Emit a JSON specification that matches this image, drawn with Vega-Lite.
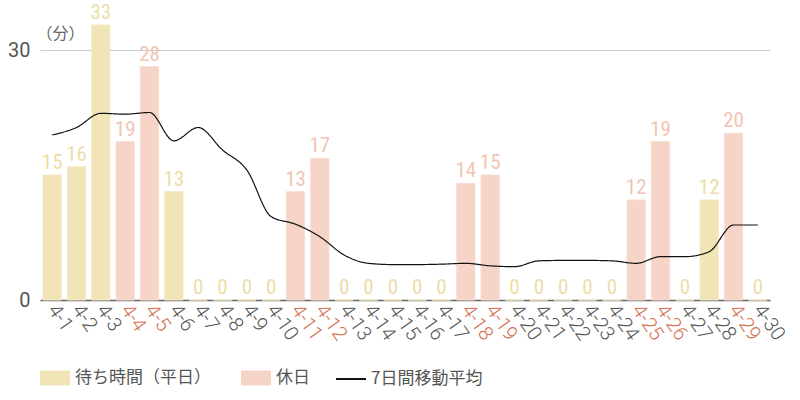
{
  "$schema": "https://vega.github.io/schema/vega-lite/v6.json",
  "width": 730,
  "height": 300,
  "autosize": {"type": "none"},
  "padding": {"left": 40, "top": 0, "right": 30, "bottom": 100},
  "background": "#ffffff",
  "data": {
    "values": [
      {"date": "4-1", "value": 15, "type": "待ち時間（平日）", "ma": 19.8},
      {"date": "4-2", "value": 16, "type": "待ち時間（平日）", "ma": 20.7},
      {"date": "4-3", "value": 33, "type": "待ち時間（平日）", "ma": 22.4},
      {"date": "4-4", "value": 19, "type": "休日", "ma": 22.3},
      {"date": "4-5", "value": 28, "type": "休日", "ma": 22.5},
      {"date": "4-6", "value": 13, "type": "待ち時間（平日）", "ma": 19.1},
      {"date": "4-7", "value": 0, "type": "待ち時間（平日）", "ma": 20.7},
      {"date": "4-8", "value": 0, "type": "待ち時間（平日）", "ma": 18.0},
      {"date": "4-9", "value": 0, "type": "待ち時間（平日）", "ma": 15.6},
      {"date": "4-10", "value": 0, "type": "待ち時間（平日）", "ma": 10.0},
      {"date": "4-11", "value": 13, "type": "休日", "ma": 9.1},
      {"date": "4-12", "value": 17, "type": "休日", "ma": 7.6},
      {"date": "4-13", "value": 0, "type": "待ち時間（平日）", "ma": 5.4},
      {"date": "4-14", "value": 0, "type": "待ち時間（平日）", "ma": 4.4},
      {"date": "4-15", "value": 0, "type": "待ち時間（平日）", "ma": 4.25},
      {"date": "4-16", "value": 0, "type": "待ち時間（平日）", "ma": 4.25},
      {"date": "4-17", "value": 0, "type": "待ち時間（平日）", "ma": 4.3},
      {"date": "4-18", "value": 14, "type": "休日", "ma": 4.4},
      {"date": "4-19", "value": 15, "type": "休日", "ma": 4.1},
      {"date": "4-20", "value": 0, "type": "待ち時間（平日）", "ma": 4.0},
      {"date": "4-21", "value": 0, "type": "待ち時間（平日）", "ma": 4.7},
      {"date": "4-22", "value": 0, "type": "待ち時間（平日）", "ma": 4.75},
      {"date": "4-23", "value": 0, "type": "待ち時間（平日）", "ma": 4.75},
      {"date": "4-24", "value": 0, "type": "待ち時間（平日）", "ma": 4.7},
      {"date": "4-25", "value": 12, "type": "休日", "ma": 4.4},
      {"date": "4-26", "value": 19, "type": "休日", "ma": 5.2},
      {"date": "4-27", "value": 0, "type": "待ち時間（平日）", "ma": 5.2},
      {"date": "4-28", "value": 12, "type": "待ち時間（平日）", "ma": 5.8},
      {"date": "4-29", "value": 20, "type": "休日", "ma": 9.0},
      {"date": "4-30", "value": 0, "type": "待ち時間（平日）", "ma": 9.0}
    ]
  },
  "encoding": {
    "x": {
      "field": "date",
      "type": "ordinal",
      "sort": null,
      "scale": {"paddingInner": 0.25, "paddingOuter": 0.125},
      "axis": {
        "title": null,
        "ticks": false,
        "labelAngle": 55,
        "labelAlign": "left",
        "labelBaseline": "middle",
        "labelPadding": 6,
        "labelFontSize": 20,
        "labelFont": "Roboto",
        "labelFontWeight": 300,
        "labelColor": {
          "condition": {
            "test": "indexof(['4-4','4-5','4-11','4-12','4-18','4-19','4-25','4-26','4-29'], datum.value) >= 0",
            "value": "#d4704f"
          },
          "value": "#555555"
        },
        "domainColor": "#666666",
        "domainWidth": 1.5
      }
    }
  },
  "layer": [
    {
      "mark": {"type": "bar", "strokeWidth": 1},
      "encoding": {
        "y": {
          "field": "value",
          "type": "quantitative",
          "scale": {"domain": [0, 36], "nice": false},
          "axis": {
            "values": [0, 30],
            "domain": false,
            "ticks": false,
            "grid": true,
            "gridColor": "#cccccc",
            "labelFontSize": 20,
            "labelFont": "Roboto",
            "labelColor": "#555555",
            "labelPadding": 10,
            "title": "（分）",
            "titleAngle": 0,
            "titleAlign": "left",
            "titleBaseline": "middle",
            "titleX": -4,
            "titleY": 33,
            "titleFontSize": 16,
            "titleFontWeight": "normal",
            "titleFont": "Noto Sans CJK JP",
            "titleColor": "#666666"
          }
        },
        "color": {
          "field": "type",
          "type": "nominal",
          "scale": {
            "domain": ["待ち時間（平日）", "休日"],
            "range": ["#f1e5b8", "#f6d4c8"]
          },
          "legend": {
            "title": null,
            "orient": "none",
            "direction": "horizontal",
            "legendX": 0,
            "legendY": 363,
            "symbolSize": 900,
            "symbolType": "M-1,-0.5H1V0.5H-1Z",
            "symbolStrokeWidth": 0,
            "labelFontSize": 17,
            "labelFont": "Noto Sans CJK JP",
            "labelColor": "#555555",
            "labelOffset": 5,
            "columnPadding": 30,
            "padding": 0
          }
        },
        "stroke": {
          "condition": {"test": "datum.type === '休日'", "value": "#f8ddd3"},
          "value": "#f4eac4"
        }
      }
    },
    {
      "mark": {"type": "text", "baseline": "bottom", "dy": -2, "fontSize": 21, "font": "Roboto Condensed, Liberation Sans Narrow, Roboto"},
      "encoding": {
        "y": {"field": "value", "type": "quantitative"},
        "text": {"field": "value", "type": "quantitative"},
        "color": {
          "condition": {"test": "datum.type === '休日'", "value": "#f1c5b3"},
          "value": "#ecdea6"
        }
      }
    },
    {
      "mark": {"type": "line", "interpolate": "monotone", "strokeWidth": 1.2, "color": "#111111"},
      "encoding": {
        "y": {"field": "ma", "type": "quantitative"},
        "strokeDash": {
          "datum": "7日間移動平均",
          "scale": {"domain": ["7日間移動平均"], "range": [[1, 0]]},
          "legend": {
            "title": null,
            "orient": "none",
            "legendX": 295,
            "legendY": 363,
            "symbolType": "stroke",
            "symbolSize": 900,
            "symbolStrokeWidth": 2,
            "symbolStrokeColor": "#111111",
            "labelFontSize": 17,
            "labelFont": "Noto Sans CJK JP",
            "labelColor": "#555555",
            "labelOffset": 4,
            "padding": 0
          }
        }
      }
    }
  ],
  "config": {
    "view": {"stroke": null}
  }
}
